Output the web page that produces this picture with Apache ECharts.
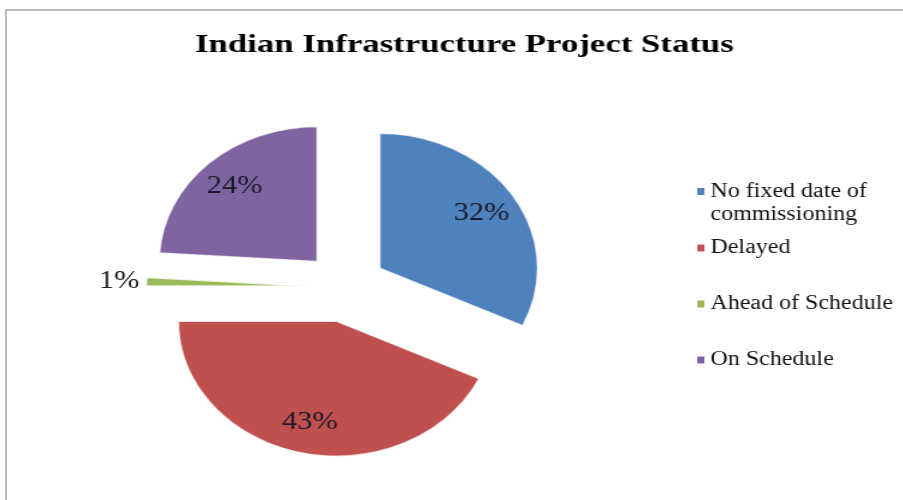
<!DOCTYPE html>
<html><head><meta charset="utf-8">
<script src="https://cdn.jsdelivr.net/npm/echarts@6/dist/echarts.min.js"></script>
<style>
html,body{margin:0;padding:0;width:903px;height:500px;overflow:hidden;background:#fff}
#wrap{position:relative;width:903px;height:500px;overflow:hidden;background:#fff}
#frame{position:absolute;left:5px;top:9px;width:1000px;height:600px;border:2px solid #b8b8b8;box-sizing:border-box}
#t,#l,#b{position:absolute;left:0;top:0;width:903px;height:500px;transform-origin:0 0}
#t{transform:scaleX(1.338)}
#l{transform:scaleX(1.2)}
#b{transform:scaleX(1.17)}
</style></head><body>
<div id="wrap"><div id="frame"></div><div id="b"></div><div id="t"></div><div id="l"></div></div>
<script>
const chartTitle = 'Indian Infrastructure Project Status';
const categories = ['No fixed date of commissioning', 'Delayed', 'Ahead of Schedule', 'On Schedule'];
const values = [32, 43, 1, 24];
const colors = ['#4F81BD', '#C0504D', '#9BBB59', '#8064A2'];

const serif = "'Liberation Serif', 'Times New Roman', serif";
const pieData = categories.map((n, i) => ({ name: n, value: values[i], selected: true }));

// title (drawn in a horizontally stretched layer, like the reference)
const t = echarts.init(document.getElementById('t'), null, { renderer: 'canvas' });
t.setOption({
  animation: false,
  title: {
    text: chartTitle, left: 145.7, top: 32, padding: 0,
    textStyle: { fontFamily: serif, fontWeight: 'bold', fontSize: 26, color: '#000' }
  }
});

// legend layer
const l = echarts.init(document.getElementById('l'), null, { renderer: 'canvas' });
l.setOption({
  animation: false,
  color: colors,
  legend: [
    {
      data: [categories[0]], orient: 'vertical', left: 581, top: 157, padding: 0,
      icon: 'rect', itemWidth: 6, itemHeight: 7, selectedMode: false,
      formatter: n => ' \n' + n.replace(' commissioning', '\ncommissioning'),
      textStyle: { fontFamily: serif, fontSize: 20, color: '#111', lineHeight: 23 }
    },
    {
      data: categories.slice(1), orient: 'vertical', left: 581, top: 236.5, padding: 0, itemGap: 33,
      icon: 'rect', itemWidth: 6, itemHeight: 7, selectedMode: false,
      textStyle: { fontFamily: serif, fontSize: 20, color: '#111', lineHeight: 23 }
    }
  ],
  series: [{
    type: 'pie', radius: 0, center: [-100, -100], silent: true,
    label: { show: false }, labelLine: { show: false },
    data: categories.map((n, i) => ({ name: n, value: values[i] }))
  }]
});

// pie layer (circle stretched horizontally into the reference's ellipse)
const b = echarts.init(document.getElementById('b'), null, { renderer: 'canvas' });
b.setOption({
  animation: false,
  color: colors,
  series: [
    {
      type: 'pie', center: [295, 287], radius: 135, startAngle: 90, clockwise: true,
      selectedMode: 'multiple', selectedOffset: 35, avoidLabelOverlap: false, silent: true,
      itemStyle: { borderColor: 'rgba(255,255,255,0.75)', borderWidth: 1.5 },
      emphasis: { disabled: true },
      label: {
        show: true, position: 'outside', fontFamily: serif, fontSize: 26, color: '#1a1a1a',
        formatter: p => (p.value < 5 ? p.value + '%' : '')
      },
      labelLine: { show: false, length: 1, length2: 0 },
      data: pieData
    },
    {
      type: 'pie', center: [295, 287], radius: [70, 130], startAngle: 90, clockwise: true,
      selectedMode: 'multiple', selectedOffset: 35, avoidLabelOverlap: false, silent: true,
      itemStyle: { color: 'rgba(0,0,0,0)', borderWidth: 0 },
      emphasis: { disabled: true },
      label: {
        show: true, position: 'inside', fontFamily: serif, fontSize: 26, color: '#1a1a2a',
        formatter: p => (p.value >= 5 ? p.value + '%' : '')
      },
      labelLine: { show: false },
      data: pieData
    }
  ]
});
</script>
</body></html>
